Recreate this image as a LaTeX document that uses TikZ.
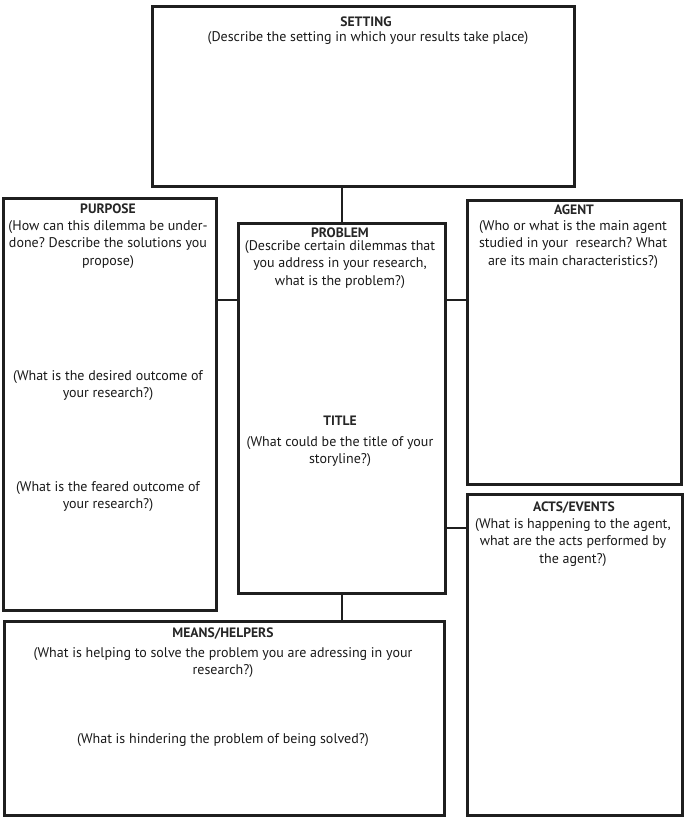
\documentclass[tikz,border=0pt]{standalone}
\usepackage{fontspec}
\setmainfont{PT Sans}
\frenchspacing
\begin{document}
\begin{tikzpicture}[x=1pt,y=-1pt,
  box/.style={draw=black!88, line width=2.6pt, inner sep=0pt, anchor=north west},
  link/.style={draw=black!88, line width=2.6pt},
  ttl/.style={font=\fontsize{13.6}{17.6}\selectfont\bfseries, text=black!85, inner sep=0pt, text depth=0pt, anchor=center},
  desc/.style={font=\fontsize{14}{17.6}\selectfont, text=black!90, inner sep=0pt, align=center, anchor=north}]
\useasboundingbox (0,0) rectangle (685,817);
% boxes
\node[box, minimum width=422pt, minimum height=180pt] (setting) at (151,5) {};
\node[box, minimum width=213pt, minimum height=412pt] (purpose) at (2,197) {};
\node[box, minimum width=207pt, minimum height=370pt] (problem) at (237,222) {};
\node[box, minimum width=214pt, minimum height=284pt] (agent) at (466,199) {};
\node[box, minimum width=215pt, minimum height=321pt] (acts) at (466,493) {};
\node[box, minimum width=440pt, minimum height=194pt] (means) at (3,620) {};
% connector levels
\coordinate (ytop) at (0,300);
\coordinate (yact) at (0,528);
% connectors
\draw[link] (problem.north) -- (problem.north |- setting.south);
\draw[link] (purpose.east |- ytop) -- (problem.west |- ytop);
\draw[link] (problem.east |- ytop) -- (agent.west |- ytop);
\draw[link] (problem.east |- yact) -- (acts.west |- yact);
\draw[link] (problem.south) -- (problem.south |- means.north);
% texts
\node[ttl] (tset) at (366,22) {SETTING};
\node[desc] (dset) at (368,31) {(Describe the setting in which your results take place)};
\node[ttl] (tpur) at (108,209) {PURPOSE};
\node[desc] (dpur) at (108,220) {(How can this dilemma be under-\\done? Describe the solutions you\\propose)};
\node[desc] (dpur2) at (108,370) {(What is the desired outcome of\\your research?)};
\node[desc] (dpur3) at (108,481) {(What is the feared outcome of\\your research?)};
\node[ttl] (tpro) at (340,233) {PROBLEM};
\node[desc] (dpro) at (340,240) {(Describe certain dilemmas that\\you address in your research,\\what is the problem?)};
\node[ttl] (ttit) at (340,421) {TITLE};
\node[desc] (dtit) at (340,436) {(What could be the title of your\\storyline?)};
\node[ttl] (tage) at (574,210) {AGENT};
\node[desc] (dage) at (573,220) {(Who or what is the main agent\\studied in your\ \ research? What\\are its main characteristics?)};
\node[ttl] (tact) at (574,507) {ACTS/EVENTS};
\node[desc] (dact) at (573,518) {(What is happening to the agent,\\what are the acts performed by\\the agent?)};
\node[ttl] (tmea) at (223,633) {MEANS/HELPERS};
\node[desc] (dmea) at (223,647) {(What is helping to solve the problem you are adressing in your\\research?)};
\node[desc] (dmea2) at (223,733) {(What is hindering the problem of being solved?)};
\end{tikzpicture}
\end{document}
